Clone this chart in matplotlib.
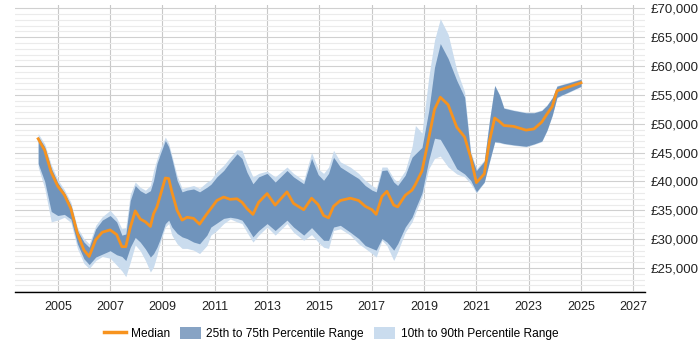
import matplotlib
matplotlib.use('Agg')
import matplotlib.pyplot as plt
from matplotlib.patches import Patch
from matplotlib.lines import Line2D
from matplotlib.ticker import MultipleLocator, FuncFormatter

# values (year, then salary percentiles in GBP)
years = [2004.25, 2004.5, 2004.75, 2005.0, 2005.25, 2005.5, 2005.75, 2006.0,
         2006.2, 2006.45, 2006.7, 2007.0, 2007.25, 2007.45, 2007.6, 2007.77,
         2007.96, 2008.15, 2008.35, 2008.54, 2008.66, 2008.79, 2008.92,
         2009.11, 2009.24, 2009.36, 2009.56, 2009.75, 2009.94, 2010.19,
         2010.42, 2010.7, 2010.85, 2011.08, 2011.34, 2011.59, 2011.85,
         2012.04, 2012.23, 2012.46, 2012.68, 2013.0, 2013.31, 2013.76,
         2014.01, 2014.4, 2014.7, 2014.95, 2015.16, 2015.35, 2015.54, 2015.8,
         2016.18, 2016.5, 2016.75, 2017.01, 2017.17, 2017.39, 2017.58,
         2017.84, 2017.99, 2018.28, 2018.54, 2018.67, 2018.92, 2019.18,
         2019.4, 2019.62, 2019.92, 2020.25, 2020.55, 2020.78, 2021.0,
         2021.3, 2021.5, 2021.7, 2021.88, 2022.05, 2022.42, 2022.9, 2023.2,
         2023.5, 2023.7, 2023.9, 2024.08, 2025.0]

p10 = [42500, 38800, 33000, 33300, 33800, 32900, 28400, 25800,
       24900, 26300, 27000, 26700, 25500, 24500, 23500, 26000,
       29000, 28000, 26300, 24300, 25200, 27200, 29500,
       32100, 32700, 30700, 29200, 28400, 28400, 28100,
       27500, 28900, 30700, 31500, 32700, 33500, 33000,
       32700, 31200, 29500, 30700, 32100, 30700, 32700,
       31200, 29800, 30800, 29500, 28600, 28400, 31500, 31800,
       30700, 29200, 28400, 27500, 26900, 29800, 28900,
       26300, 27800, 31200, 33000, 34500, 37300, 42200,
       44000, 44400, 42500, 41300, 40800, 39600, 38000,
       39800, 43300, 46800, 46700, 46500, 46250, 46000, 46400,
       46900, 48800, 51400, 54500, 56400]

p25 = [43100, 40000, 34800, 34100, 34300, 33500, 29200, 26600,
       25600, 26900, 27400, 28000, 27300, 27000, 26300, 28600,
       30300, 29500, 28300, 26900, 27500, 28600, 30100,
       32700, 33300, 32100, 31000, 30400, 30100, 29500,
       29200, 30700, 32100, 32800, 33600, 33800, 33600,
       33300, 32100, 30400, 31500, 32700, 31500, 33300,
       32100, 30700, 32000, 30800, 29800, 29800, 32100, 32400,
       31200, 30100, 28900, 28400, 28100, 30100, 29500,
       28100, 29200, 32100, 33800, 35300, 38000, 43700,
       47500, 47300, 45000, 42200, 41300, 40200, 38200,
       39900, 43500, 46900, 46800, 46600, 46350, 46100, 46500,
       47000, 48900, 51500, 54600, 56500]

median = [47400, 45400, 41600, 39200, 37700, 35300, 31000, 28100,
          27000, 29900, 31200, 31600, 30800, 28700, 28700, 32000,
          34900, 33500, 33000, 32200, 34400, 35600, 37600,
          40600, 40500, 38200, 35000, 33300, 33800, 33600,
          32600, 34400, 35300, 36700, 37300, 36900, 37000,
          36400, 35300, 34300, 36400, 37900, 35900, 38200,
          36200, 35100, 37100, 36000, 34100, 33700, 35700, 36700,
          37100, 36700, 35700, 35100, 34300, 37400, 38300,
          35900, 35600, 37600, 38500, 39500, 41800, 47500,
          52500, 54600, 53300, 49400, 47700, 44200, 39800,
          41300, 47000, 51000, 50400, 49700, 49550, 48900, 49100,
          50300, 51700, 53000, 55700, 57100]

p75 = [47800, 46000, 42300, 39800, 38100, 35900, 31500, 29500,
       28600, 31800, 33300, 34100, 33000, 30700, 30900, 36700,
       39300, 38400, 37900, 38400, 40200, 43100, 44800,
       47100, 46000, 44000, 40200, 38200, 38500, 38700,
       38200, 39000, 39500, 40800, 41900, 43400, 44800,
       44000, 41600, 39600, 40800, 41400, 39900, 41900,
       40800, 39600, 44000, 41200, 40200, 41400, 44200, 42500,
       41400, 40500, 39300, 38500, 38200, 41900, 42000,
       39900, 39300, 41100, 44200, 44800, 45900, 52300,
       59800, 63900, 61300, 57500, 54600, 44800, 41900,
       43500, 50500, 56600, 55000, 52700, 52300, 51900, 51900,
       52300, 53200, 54500, 56500, 57700]

p90 = [48300, 46500, 42900, 40300, 38600, 36400, 32000, 30100,
       29200, 32400, 33900, 35000, 33700, 31800, 32000, 37800,
       39900, 39000, 38500, 39300, 41900, 43900, 45700,
       47700, 46600, 44500, 41000, 38800, 39000, 39300,
       38800, 39900, 40300, 41700, 42800, 44200, 45500,
       45400, 43100, 40800, 41400, 41800, 40800, 42500,
       41400, 40200, 45000, 42200, 41400, 42500, 45400, 43400,
       42500, 41400, 40200, 39300, 38800, 42500, 42500,
       40500, 39900, 41900, 46000, 49700, 48400, 58100,
       64500, 68200, 65500, 59300, 55500, 45300, 42200,
       43700, 50700, 56700, 55100, 52800, 52400, 52000, 52000,
       52400, 53300, 54600, 56600, 57800]

year_ticks = list(range(2005, 2028, 2))

orange = '#f7931e'
dark_blue = '#7094bc'
light_blue = '#cadcee'

plt.rcParams['font.family'] = ['Liberation Sans', 'DejaVu Sans']

fig = plt.figure(figsize=(7, 3.5), dpi=100)
ax = fig.add_axes([0.022, 0.165, 0.9, 0.821])

ax.fill_between(years, p10, p90, color=light_blue, lw=0)
ax.fill_between(years, p25, p75, color=dark_blue, lw=0)
ax.plot(years, median, color=orange, lw=2)

ax.set_xlim(2003.38, 2027.46)
ax.set_ylim(20800, 70600)
ax.set_xticks(year_ticks)
ax.yaxis.set_major_locator(MultipleLocator(5000))
ax.yaxis.set_minor_locator(MultipleLocator(1000))
ax.yaxis.set_major_formatter(FuncFormatter(lambda v, p: '£{:,.0f}'.format(v)))
ax.yaxis.tick_right()

# gridlines
ax.set_axisbelow(True)
ax.grid(axis='x', which='major', color='#c8c8c8', lw=0.8)
ax.grid(axis='y', which='major', color='#d0d0d0', lw=0.8)
ax.grid(axis='y', which='minor', color='#ebebeb', lw=0.8)

for s in ['top', 'left', 'right']:
    ax.spines[s].set_visible(False)
ax.spines['bottom'].set_color('black')
ax.spines['bottom'].set_linewidth(1.0)
ax.tick_params(axis='both', which='both', length=0, colors='#222222')
ax.tick_params(axis='x', labelsize=9, pad=6)
ax.tick_params(axis='y', labelsize=9.5, pad=4)

handles = [Line2D([0], [0], color=orange, lw=2.5),
           Patch(facecolor='#87a3c4', edgecolor='none'),
           Patch(facecolor=light_blue, edgecolor='none')]
labels = ['Median', '25th to 75th Percentile Range', '10th to 90th Percentile Range']
fig.legend(handles, labels, loc='center', bbox_to_anchor=(0.473, 0.046), ncol=3,
           frameon=False, fontsize=8.6, handlelength=1.8, handleheight=1.15,
           handletextpad=0.45, columnspacing=0.8)

fig.savefig('out.png', dpi=100)
